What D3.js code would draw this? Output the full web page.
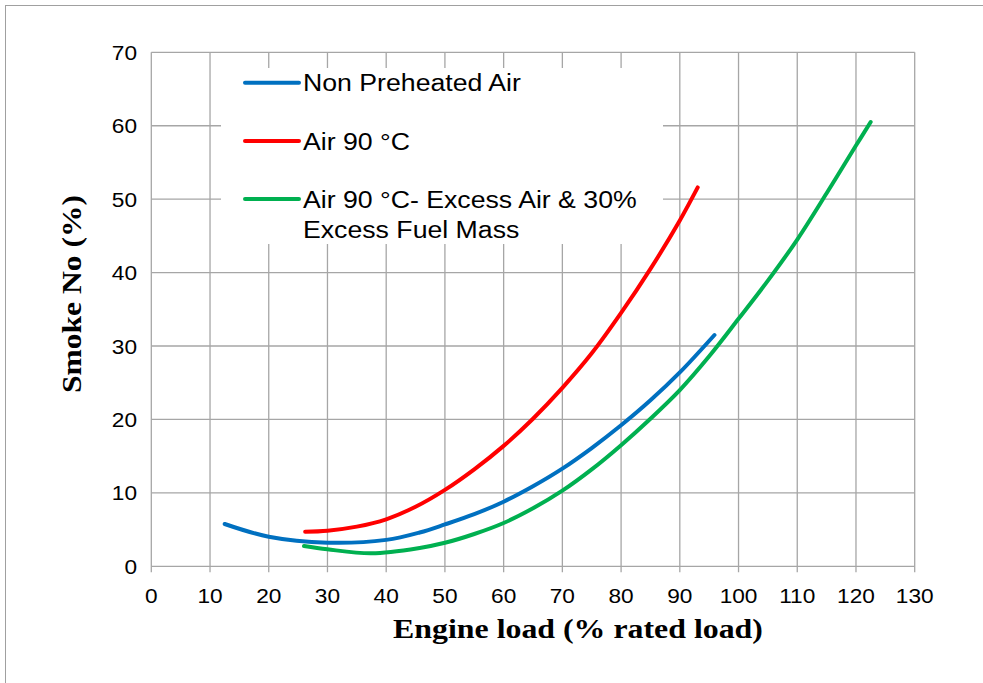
<!DOCTYPE html>
<html><head><meta charset="utf-8">
<script src="https://cdn.jsdelivr.net/npm/d3@7"></script>
<style>body{margin:0;background:#fff}svg{display:block}</style>
</head><body>
<svg id="c" width="983" height="683"></svg>
<script>
const xTicks = [0,10,20,30,40,50,60,70,80,90,100,110,120,130];
const yTicks = [0,10,20,30,40,50,60,70];
const seriesNames = ["Non Preheated Air","Air 90 °C","Air 90 °C- Excess Air & 30%|Excess Fuel Mass"];
const seriesColors = ["#0070C0","#FF0000","#00B050"];
const blueX = [12.5,20,30,40,45.7,50,55,60,65,70,75,80,85,90,95.9];
const blueY = [5.76,4.03,3.22,3.6,4.6,5.7,7.1,8.8,10.9,13.3,16.1,19.2,22.6,26.4,31.5];
const redX = [26.2,30,35,40,45,50,55,60,65,70,75,80,85,90,93.05];
const redY = [4.71,4.85,5.4,6.4,8.1,10.4,13.2,16.4,20.1,24.3,29.0,34.5,40.5,47.1,51.6];
const greenX = [26,30,37.5,45.7,50,55,60,65,70,75,80,85,90,95,100,105,110,115,120,122.5];
const greenY = [2.76,2.31,1.77,2.5,3.2,4.4,5.9,7.9,10.3,13.2,16.5,20.1,24.0,28.6,33.7,38.9,44.5,50.8,57.3,60.5];

const svg = d3.select("#c");
const L=151.3, R=914.7, T=52.3, B=566.3;
const x = d3.scaleLinear().domain([0,130]).range([L,R]);
const y = d3.scaleLinear().domain([0,70]).range([B,T]);
const grid = "#a6a6a6";
const sans = "Arial, 'Liberation Sans', sans-serif";
const serif = "'Times New Roman', 'Liberation Serif', serif";

// outer border
svg.append("rect").attr("x",5.5).attr("y",5.5).attr("width",1000).attr("height",700)
  .attr("fill","none").attr("stroke","#a0a0a0").attr("stroke-width",1);

// gridlines
svg.append("g").selectAll("line").data(xTicks).join("line")
  .attr("x1",d=>x(d)).attr("x2",d=>x(d)).attr("y1",T).attr("y2",B+6)
  .attr("stroke",grid).attr("stroke-width",1.3);
svg.append("g").selectAll("line").data(yTicks).join("line")
  .attr("x1",L).attr("x2",R).attr("y1",d=>y(d)).attr("y2",d=>y(d))
  .attr("stroke",grid).attr("stroke-width",1.3);

// tick labels
svg.append("g").selectAll("text").data(xTicks).join("text")
  .attr("transform",d=>`translate(${x(d)},603) scale(1.08,1)`).attr("text-anchor","middle")
  .attr("font-family",sans).attr("font-size",21).text(d=>d);
svg.append("g").selectAll("text").data(yTicks).join("text")
  .attr("transform",d=>`translate(137,${y(d)+7.5}) scale(1.08,1)`).attr("text-anchor","end")
  .attr("font-family",sans).attr("font-size",21).text(d=>d);

// axis titles
svg.append("text").attr("transform","translate(578,638) scale(1.18,1)").attr("text-anchor","middle")
  .attr("font-family",serif).attr("font-weight","bold")
  .attr("font-size",27).text("Engine load (% rated load)");
svg.append("text").attr("transform","translate(81,294) rotate(-90) scale(1.17,1)").attr("text-anchor","middle")
  .attr("font-family",serif).attr("font-weight","bold")
  .attr("font-size",27).text("Smoke No (%)");

// legend background
svg.append("rect").attr("x",221).attr("y",68).attr("width",442).attr("height",176).attr("fill","#fff");

// curves
const line = d3.line().x(d=>x(d[0])).y(d=>y(d[1])).curve(d3.curveCatmullRom.alpha(0.5));
const series = [d3.zip(blueX,blueY), d3.zip(redX,redY), d3.zip(greenX,greenY)];
svg.append("g").selectAll("path").data(series).join("path")
  .attr("d",line).attr("fill","none").attr("stroke",(d,i)=>seriesColors[i])
  .attr("stroke-width",4).attr("stroke-linecap","round");

// legend
const legY = [82.7,141,199];
const lg = svg.append("g");
seriesNames.forEach((n,i)=>{
  lg.append("line").attr("x1",245).attr("x2",299).attr("y1",legY[i]).attr("y2",legY[i])
    .attr("stroke",seriesColors[i]).attr("stroke-width",4).attr("stroke-linecap","round");
  n.split("|").forEach((t,j)=>{
    lg.append("text").attr("transform",`translate(303,${legY[i]+8.5+j*30.6}) scale(1.16,1)`)
      .attr("font-family",sans).attr("font-size",23).text(t);
  });
});
</script>
</body></html>
